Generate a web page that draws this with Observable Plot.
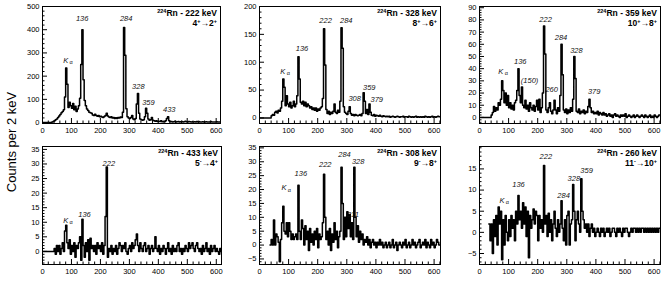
<!DOCTYPE html>
<html><head><meta charset="utf-8">
<script src="https://cdn.jsdelivr.net/npm/d3@7"></script>
<script src="https://cdn.jsdelivr.net/npm/@observablehq/plot@0.6"></script>
<style>
body{margin:0;background:#fff}
#c{position:relative;width:664px;height:287px;font-family:"Liberation Sans",Arial,Helvetica,sans-serif;overflow:hidden}
.p{position:absolute}
.ttl{position:absolute;text-align:right;font-weight:bold;font-size:8.5px;line-height:10.5px;color:#000;white-space:nowrap}
.ttl sup{font-size:5.5px;vertical-align:3px;line-height:0}
.ylab{position:absolute;width:200px;text-align:center;font-size:13px;line-height:16px;transform:rotate(-90deg);color:#000;white-space:nowrap}
</style></head>
<body><div id="c"></div>
<script>
// ---- data: counts per 2 keV, sampled on 4 keV steps ----
const binWidth = 4;
const xTicks = [0, 100, 200, 300, 400, 500, 600];

// 222 keV gate (4+ -> 2+)
const start222 = 0;
const spec222 = [0,0,0,0,0,0,0,0,2,5,
 8,12,15,22,28,35,42,48,55,110,
 235,165,65,88,72,62,82,55,70,48,
 58,72,105,250,400,185,95,72,58,52,
 45,42,40,33,30,36,30,27,30,25,
 27,24,22,26,30,40,28,24,22,25,
 20,22,18,21,18,22,20,24,22,45,
 410,290,60,25,20,18,22,30,15,12,
 18,80,125,40,15,12,10,12,25,62,
 40,15,10,12,22,10,8,6,8,5,
 6,5,8,4,5,4,8,18,25,8,
 4,5,3,4,6,3,4,5,3,4,
 5,3,4,6,4,3,5,4,3,4,
 2,4,3,5,3,4,2,3,4,3,
 2,4,3,2,3,5,2,3,2,3,
 4,2,3,2,3];
const yTicks222 = [0, 100, 200, 300, 400, 500];
const labels222 = [
 {t:"136", e:137, c:447}, {t:"284", e:289, c:447}, {t:"328", e:331, c:155},
 {t:"359", e:366, c:88}, {t:"433", e:438, c:55}];
const ka222 = {e:80, c:267};

// 328 keV gate (8+ -> 6+)
const start328 = 0;
const spec328 = [0,0,0,0,0,0,0,0,0,0,
 4,6,5,10,12,9,14,12,18,30,
 70,55,22,40,25,20,28,18,22,30,
 20,25,40,110,70,28,25,30,22,28,
 20,25,22,18,20,15,18,14,18,12,
 16,14,18,20,35,160,95,15,8,12,
 6,10,8,12,25,10,8,14,10,30,
 162,125,20,10,8,6,12,20,8,5,
 6,4,6,5,4,5,6,4,8,45,
 30,8,15,6,25,10,5,4,6,3,
 5,4,3,5,3,2,4,3,2,3,
 2,3,1,2,3,2,1,2,3,2,
 1,2,2,3,1,2,2,1,3,2,
 1,2,1,2,3,1,2,1,2,1,
 2,1,3,2,1,2,1,2,3,1,
 2,1,2,3,2];
const yTicks328 = [0, 50, 100, 150, 200];
const labels328 = [
 {t:"136", e:146, c:124}, {t:"222", e:227, c:174}, {t:"284", e:298, c:174},
 {t:"308", e:327, c:35}, {t:"359", e:377, c:55}, {t:"379", e:403, c:33}];
const ka328 = {e:80, c:84};

// 359 keV gate (10+ -> 8+)
const start359 = 0;
const spec359 = [0,0,0,0,0,0,0,0,0,0,
 2,4,9,5,8,6,12,10,15,30,
 22,12,20,10,18,8,12,7,10,6,
 12,14,22,40,18,12,25,10,8,14,
 7,10,5,12,8,6,10,5,9,14,
 6,15,4,8,20,75,52,6,4,8,
 12,5,3,6,14,6,3,8,5,18,
 60,35,6,4,7,3,6,4,8,5,
 15,50,32,5,4,7,3,5,4,6,
 3,5,4,9,15,8,4,5,3,4,
 3,5,2,4,3,2,4,2,3,1,
 2,3,1,2,0,2,3,1,2,1,
 0,2,1,2,1,3,0,1,2,1,
 0,1,2,0,1,2,1,0,1,2,
 1,0,2,1,0,1,2,0,1,0,
 2,1,0,1,2];
const yTicks359 = [0, 10, 20, 30, 40, 50, 60, 70, 80, 90];
const labels359 = [
 {t:"136", e:140, c:46}, {t:"(150)", e:172, c:30.5}, {t:"222", e:227, c:80.5},
 {t:"260", e:248, c:23}, {t:"284", e:280, c:65.5}, {t:"328", e:333, c:55},
 {t:"379", e:394, c:21.3}];
const ka359 = {e:73, c:37.6};

// 433 keV gate (5- -> 4+)
const start433 = 0;
const spec433 = [0,0,0,0,0,0,0,0,0,0,
 1,-1,2,0,2,-1,1,3,0,7,
 9,3,1,4,-1,2,0,3,-2,2,
 1,3,5,-3,11,2,-2,3,0,4,
 -3,4.5,1,2,0,2,-1,3,1,2,
 0,3,-1,2,12,29,-2,1,0,2,
 -1,1,0,2,-1,1,3,2,0,2,
 1,3,0,-1,1,2,0,3,1,2,
 4,6,2,0,3,1,0,2,3,0,
 1,2,-1,1,2,0,1,5,1,0,
 2,-1,1,0,2,1,-1,1,3,0,
 1,-1,2,0,1,0,2,3,0,1,
 -1,1,0,2,1,0,3,1,2,3,
 1,0,2,3,1,0,1,-1,2,0,
 1,3,0,1,-1,2,0,1,2,0,
 1,0,-1,1,0];
const yTicks433 = [0, 5, 10, 15, 20, 25, 30, 35];
const labels433 = [{t:"136", e:145, c:12.8}, {t:"222", e:229, c:30.3}];
const ka433 = {e:80, c:10.6};

// 308 keV gate (9- -> 8+)
const start308 = 36;
const spec308 = [0,2,0,9,0,4,3,1,-6,2,
 8,14,5,4,8,3,8,5,2,4,
 2,3,4,2,21.5,5,2,9,6,0,
 7,2,5,-2,6,1,4,0,5,2,
 6,-1,4,2,3,8,25.5,10,2,5,
 0,6,-2,4,1,8,2,5,-1,3,
 5,28,15,2,10,3,12,6,11,3,
 8,2,28,10,3,7,1,5,2,4,
 0,2,1,3,0,2,-1,1,2,0,
 1,-1,1,0,2,0,1,-1,0,1,
 -1,0,1,-1,0,2,-1,0,1,-2,
 0,1,0,-1,1,0,2,-1,0,1,
 -1,0,2,0,1,-1,0,1,2,-1,
 0,1,0,2,-1,1,0,-1,2,0,
 1,-1,0,2,1,0];
const yTicks308 = [-5, 0, 5, 10, 15, 20, 25, 30, 35];
const labels308 = [
 {t:"136", e:142, c:25.7}, {t:"222", e:226, c:28.9}, {t:"284", e:292, c:32.7},
 {t:"328", e:339, c:29.9}, {t:"311", e:321, c:10.8}];
const ka308 = {e:84, c:20.6};

// 260 keV gate (11- -> 10+)
const start260 = 32;
const spec260 = [2,-2,2,-5,3,-1,4,-3,6,2,
 5,-6.5,3,-3,4,0,-2,3,-1,4,
 1,3,-2,5,2,8.7,3,5,1,7,
 2,6,-1,5,-6,4,1,3,5.5,2,
 5,4,-2,4,1,3,0,15.8,2,4,
 -1,4.5,0,3,-2,2,5,1,-1,3,
 0,2,7.5,1,-2,3,-3,4,5,-3,
 2,3,11.3,5,-2,3,5,2,0,12.7,
 5,3,1,2,0,2,-1,1,2,0,
 1,-1,0,1,0,-1,1,0,1,-1,
 0,1,0,1,-1,0,1,1,0,-1,
 1,0,1,0,-1,1,0,1,1,0,
 -1,0,1,0,1,1,0,1,0,1,
 0,1,1,0,1,0,1,0,1,0,
 1,0,1,0,1,0,1];
const yTicks260 = [-5, 0, 5, 10, 15];
const labels260 = [
 {t:"136", e:134, c:11.2}, {t:"222", e:228, c:17.9}, {t:"284", e:289, c:8.7},
 {t:"328", e:324, c:12.6}, {t:"359", e:368, c:14.7}];
const ka260 = {e:77, c:7.5};

// ---- layout ----
const panels = [
 {values:spec222, start:start222, xmax:615, ydom:[-4,500], yTicks:yTicks222, yMinor:20, labels:labels222, ka:ka222,
  frame:{l:42,t:6,w:178,h:117}, title:"Rn - 222 keV", trans:["4","+","2","+"]},
 {values:spec328, start:start328, xmax:622, ydom:[-10,200], yTicks:yTicks328, yMinor:10, labels:labels328, ka:ka328,
  frame:{l:259,t:6,w:181,h:117}, title:"Rn - 328 keV", trans:["8","+","6","+"]},
 {values:spec359, start:start359, xmax:622, ydom:[-5,91], yTicks:yTicks359, yMinor:2, labels:labels359, ka:ka359,
  frame:{l:479,t:6,w:181,h:117}, title:"Rn - 359 keV", trans:["10","+","8","+"]},
 {values:spec433, start:start433, xmax:618, ydom:[-4.5,36], yTicks:yTicks433, yMinor:1, labels:labels433, ka:ka433,
  frame:{l:42,t:146,w:179,h:118}, title:"Rn - 433 keV", trans:["5","-","4","+"]},
 {values:spec308, start:start308, xmax:622, ydom:[-7,35.5], yTicks:yTicks308, yMinor:1, labels:labels308, ka:ka308,
  frame:{l:259,t:146,w:181,h:118}, title:"Rn - 308 keV", trans:["9","-","8","+"]},
 {values:spec260, start:start260, xmax:622, ydom:[-7.6,20.3], yTicks:yTicks260, yMinor:1, labels:labels260, ka:ka260,
  frame:{l:479,t:146,w:181,h:118}, title:"Rn - 260 keV", trans:["11","-","10","+"]}
];

const root = document.getElementById("c");
const ML = 36, MR = 4, MT = 4, MB = 16;
const font = "'Liberation Sans', Arial, Helvetica, sans-serif";

for (const p of panels) {
  const W = p.frame.w + ML + MR, H = p.frame.h + MT + MB;
  const data = p.values.map((c, i) => ({e: p.start + i * binWidth, c}));
  data.push({e: p.xmax, c: p.values[p.values.length - 1]});
  const xMinor = d3.range(0, p.xmax, 20).filter(v => !xTicks.includes(v));
  const y0 = Math.ceil(p.ydom[0] / p.yMinor) * p.yMinor;
  const yMinor = d3.range(y0, p.ydom[1] + 1e-9, p.yMinor).map(v => +v.toFixed(3)).filter(v => !p.yTicks.includes(v));
  const chart = Plot.plot({
    width: W, height: H,
    marginLeft: ML, marginRight: MR, marginTop: MT, marginBottom: MB,
    style: {fontFamily: font, fontSize: "7.5px", background: "transparent", color: "#000", overflow: "visible"},
    x: {domain: [0, p.xmax], label: null},
    y: {domain: p.ydom, label: null},
    marks: [
      Plot.lineY(data, {x: "e", y: "c", curve: "step-after", stroke: "#000", strokeWidth: 1.5, clip: true}),
      Plot.tickX(xTicks, {x: d => d, stroke: "#000", insetTop: p.frame.h - 5}),
      Plot.tickX(xMinor, {x: d => d, stroke: "#000", insetTop: p.frame.h - 2.5}),
      Plot.tickY(p.yTicks, {y: d => d, stroke: "#000", insetRight: p.frame.w - 5}),
      Plot.tickY(yMinor, {y: d => d, stroke: "#000", insetRight: p.frame.w - 2.5}),
      Plot.axisX(xTicks, {tickSize: 0, tickPadding: 4, label: null, fontSize: 7.5, fill: "#000"}),
      Plot.axisY(p.yTicks, {tickSize: 0, tickPadding: 3, label: null, fontSize: 7.5, fill: "#000"}),
      Plot.frame({stroke: "#000", strokeWidth: 1}),
      Plot.text(p.labels, {x: "e", y: "c", text: "t", fontStyle: "italic", fontSize: 7.5, fill: "#111"}),
      Plot.text([p.ka], {x: "e", y: "c", text: () => "K", fontStyle: "italic", fontSize: 7.5, fill: "#111"}),
      Plot.text([p.ka], {x: "e", y: "c", text: () => "α", dx: 5.5, dy: 2, fontSize: 5.5, fill: "#111"})
    ]
  });
  chart.classList.add("p");
  chart.style.left = (p.frame.l - ML) + "px";
  chart.style.top = (p.frame.t - MT) + "px";
  root.appendChild(chart);

  const t = document.createElement("div");
  t.className = "ttl";
  t.style.right = (664 - (p.frame.l + p.frame.w) + 3) + "px";
  t.style.top = (p.frame.t + 1.5) + "px";
  t.innerHTML = `<sup>224</sup>${p.title}<br>${p.trans[0]}<sup>${p.trans[1]}</sup>→${p.trans[2]}<sup>${p.trans[3]}</sup>`;
  root.appendChild(t);
}

const yl = document.createElement("div");
yl.className = "ylab";
yl.textContent = "Counts per 2 keV";
yl.style.left = (12 - 100) + "px";
yl.style.top = (142 - 8) + "px";
root.appendChild(yl);
</script>
</body></html>
